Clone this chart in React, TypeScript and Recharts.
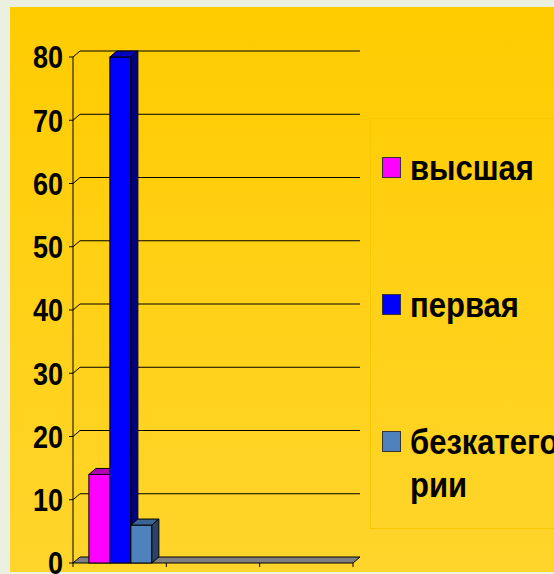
import React from 'react';
import { BarChart, Bar, XAxis, YAxis, CartesianGrid, Legend } from 'recharts';

const categories = ['1', '2', '3'];
const vysshaya = [14, null, null];
const pervaya = [80, null, null];
const bezkategorii = [6, null, null];
const yTicks = [0, 10, 20, 30, 40, 50, 60, 70, 80];

const SERIES = [
  { key: 'высшая', values: vysshaya, front: '#FF00FF', top: '#B400B4', side: '#800080' },
  { key: 'первая', values: pervaya, front: '#0000FF', top: '#0000C0', side: '#000080' },
  { key: 'безкатегории', values: bezkategorii, front: '#4F81BD', top: '#3B6494', side: '#294563' },
];

const data = categories.map((c, i) => {
  const row: any = { name: c };
  SERIES.forEach(s => { row[s.key] = s.values[i]; });
  return row;
});

const W = 554;
const H = 574;
const MARGIN = { top: 57, right: 201, bottom: 0, left: 13 };
const Y_W = 60;
const X_H = 11;
const PLOT_BOTTOM = H - MARGIN.bottom - X_H;
const PLOT_W = W - MARGIN.left - MARGIN.right - Y_W;
const DX = 7; // 3d depth
const DY = 6;
const FONT = '"Liberation Sans", Arial, sans-serif';

const gridLine = (props: any) => {
  const { x1, y1, x2, index } = props;
  if (Math.abs(y1 - PLOT_BOTTOM) < 1) {
    const pts = `${x1},${y1} ${x2},${y1} ${x2 + DX},${y1 - DY} ${x1 + DX},${y1 - DY}`;
    return <polygon key={'g' + index} points={pts} fill="#808080" stroke="#000" strokeWidth={1} />;
  }
  return (
    <path
      key={'g' + index}
      d={`M${x1},${y1}L${x1 + DX},${y1 - DY}L${x2 + DX},${y1 - DY}`}
      fill="none"
      stroke="#000"
      strokeWidth={1}
    />
  );
};

const makeShape = (s: typeof SERIES[number]) => (props: any) => {
  const { x, y, width, height } = props;
  if (!height || height <= 0) return <g />;
  const r = x + width;
  const b = y + height;
  return (
    <g stroke="#000" strokeWidth={1}>
      <rect x={x} y={y} width={width} height={height} fill={s.front} />
      <polygon points={`${x},${y} ${x + DX},${y - DY} ${r + DX},${y - DY} ${r},${y}`} fill={s.top} />
      <polygon points={`${r},${y} ${r + DX},${y - DY} ${r + DX},${b - DY} ${r},${b}`} fill={s.side} />
    </g>
  );
};

const YTick = (props: any) => {
  const { x, y, payload } = props;
  return (
    <text
      transform={`translate(${x},${y}) scale(1,1.19)`}
      textAnchor="end"
      dominantBaseline="central"
      fontSize={27}
      fontWeight="bold"
      fontFamily={FONT}
      fill="#000"
    >
      {payload.value}
    </text>
  );
};

const XTick = (props: any) => {
  const { x, index } = props;
  const half = PLOT_W / categories.length / 2;
  return (
    <g stroke="#000">
      <line x1={x - half} x2={x - half} y1={PLOT_BOTTOM} y2={PLOT_BOTTOM + 4} />
      {index === categories.length - 1 && (
        <line x1={x + half} x2={x + half} y1={PLOT_BOTTOM} y2={PLOT_BOTTOM + 4} />
      )}
    </g>
  );
};

// keep the legend in series order (recharts sorts payload by name)
const renderLegend = () => (
  <div style={{ position: 'relative', width: 200, height: 411, border: '1px solid #F7C700', boxSizing: 'border-box' }}>
    {SERIES.map((s, i) => (
      <React.Fragment key={s.key}>
        <div
          style={{
            position: 'absolute', left: 11, top: 38 + i * 137, width: 19, height: 21,
            background: s.front, border: '1px solid #333', boxSizing: 'border-box',
          }}
        />
        <div
          style={{
            position: 'absolute', left: 39, top: 29 + i * 137, width: 150,
            fontFamily: FONT, fontWeight: 'bold', fontSize: 31, lineHeight: '37.5px',
            color: '#000', wordBreak: 'break-all', transform: 'scaleY(1.12)', transformOrigin: 'top left',
          }}
        >
          {s.key}
        </div>
      </React.Fragment>
    ))}
  </div>
);

export default function App() {
  return (
    <div style={{ position: 'fixed', left: 0, top: 0, width: W, height: H, background: '#EBF0E0', overflow: 'hidden' }}>
      <div
        style={{
          position: 'absolute', left: 10, top: 7, right: 0, bottom: 2,
          background: 'linear-gradient(to bottom, #FFCC00, #FFD52C)',
        }}
      />
      <div style={{ position: 'absolute', left: 0, top: 0 }}>
        <BarChart width={W} height={H} data={data} margin={MARGIN} barCategoryGap="17%" barGap={0}>
          <CartesianGrid horizontal={gridLine} vertical={false} />
          <XAxis dataKey="name" height={X_H} axisLine={false} tickLine={false} tick={<XTick />} interval={0} />
          <YAxis
            width={Y_W}
            domain={[0, 80]}
            ticks={yTicks}
            interval={0}
            axisLine={{ stroke: '#000' }}
            tickLine={{ stroke: '#000' }}
            tickSize={4}
            tickMargin={6}
            tick={<YTick />}
          />
          <Legend
            layout="vertical"
            align="center"
            verticalAlign="middle"
            content={renderLegend}
            wrapperStyle={{ left: 370, top: 118, width: 200, height: 411 }}
          />
          {SERIES.map(s => (
            <Bar key={s.key} dataKey={s.key} fill={s.front} shape={makeShape(s)} isAnimationActive={false} />
          ))}
        </BarChart>
      </div>
    </div>
  );
}
